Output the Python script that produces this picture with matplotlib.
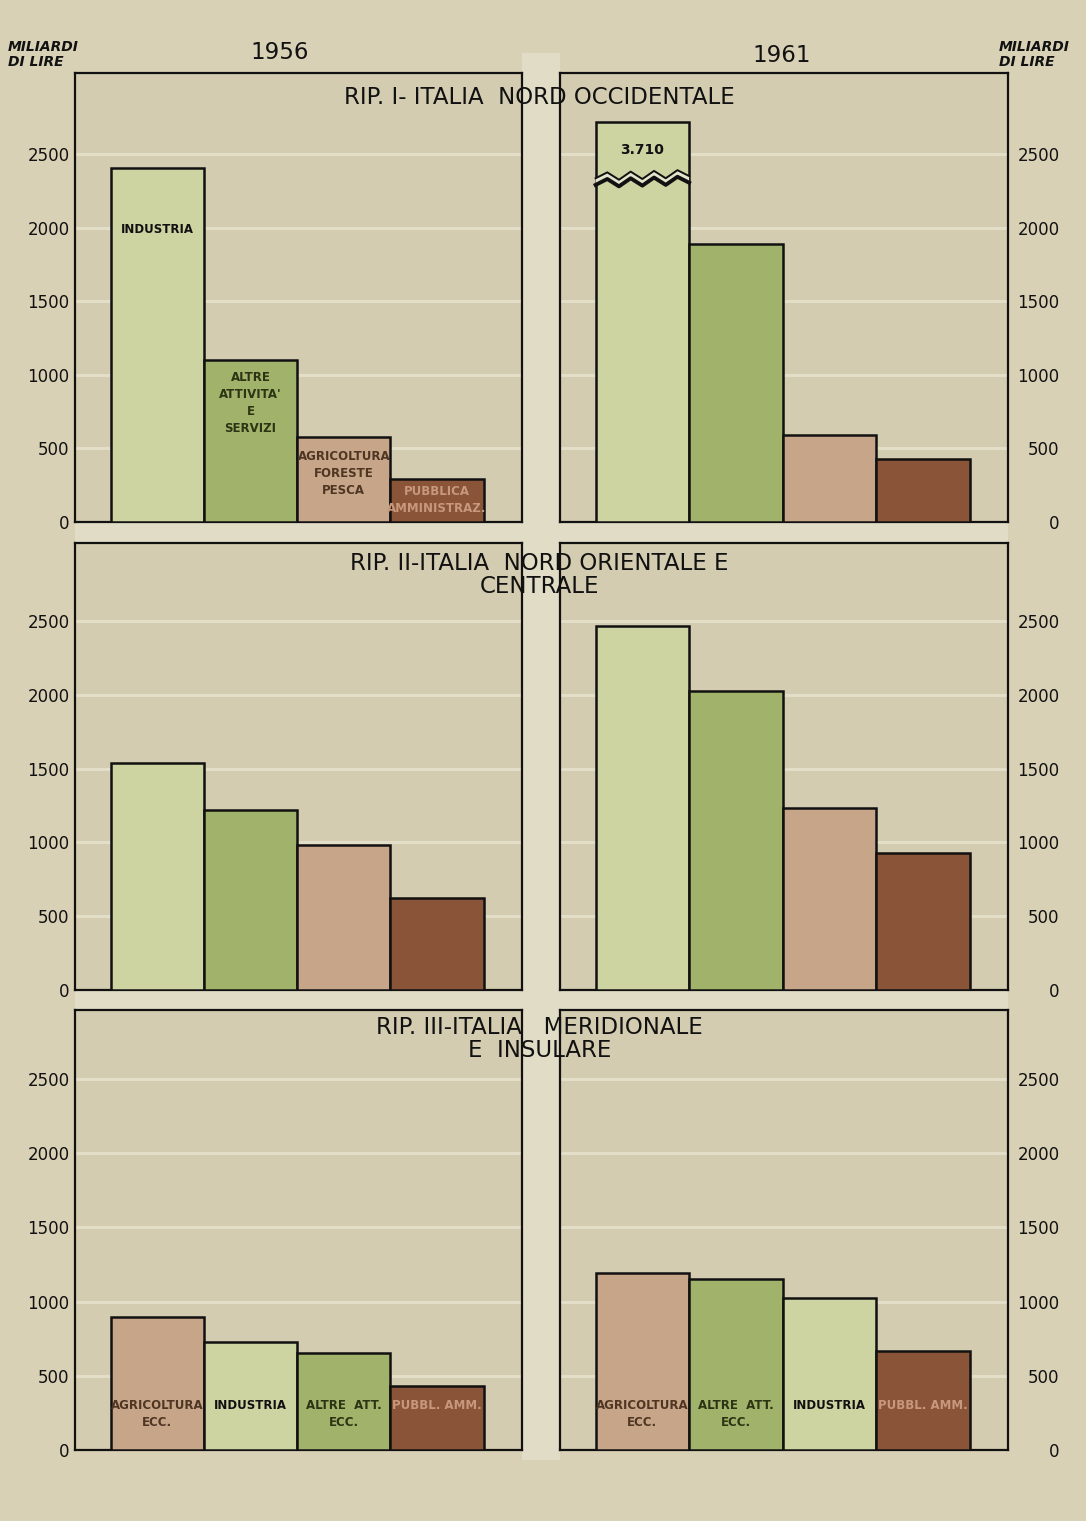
import numpy as np
import matplotlib
matplotlib.use('Agg')
import matplotlib.pyplot as plt
from matplotlib.patches import Rectangle, Polygon

plt.rcParams['font.family'] = ['DejaVu Sans']

# categorie
IND = 'INDUSTRIA'
ALT = 'ALTRE ATTIVITA'
AGR = 'AGRICOLTURA'
PUB = 'PUBBLICA AMMINISTRAZIONE'

# valori in miliardi di lire
rip1_cat = [IND, ALT, AGR, PUB]
rip1_1956 = [2405, 1100, 580, 295]
rip1_1961 = [3710, 1890, 590, 430]

rip2_cat = [IND, ALT, AGR, PUB]
rip2_1956 = [1540, 1220, 985, 625]
rip2_1961 = [2465, 2025, 1235, 925]

rip3_cat_1956 = [AGR, IND, ALT, PUB]
rip3_1956 = [895, 730, 655, 430]
rip3_cat_1961 = [AGR, ALT, IND, PUB]
rip3_1961 = [1190, 1150, 1025, 665]

yticks = [0, 500, 1000, 1500, 2000, 2500]
years = ['1956', '1961']
titles = ['RIP. I- ITALIA  NORD OCCIDENTALE',
          'RIP. II-ITALIA  NORD ORIENTALE E\nCENTRALE',
          'RIP. III-ITALIA   MERIDIONALE\nE  INSULARE']

# etichette dentro le barre
lab_rip1 = {IND: 'INDUSTRIA', ALT: "ALTRE\nATTIVITA'\nE\nSERVIZI",
            AGR: 'AGRICOLTURA\nFORESTE\nPESCA', PUB: 'PUBBLICA\nAMMINISTRAZ.'}
lab_rip1_y = {IND: 1985, ALT: 810, AGR: 330, PUB: 150}
lab_rip3 = {IND: 'INDUSTRIA', ALT: 'ALTRE  ATT.\nECC.',
            AGR: 'AGRICOLTURA\nECC.', PUB: 'PUBBL. AMM.'}

colori = {IND: '#ced3a2', ALT: '#a1b26a', AGR: '#c7a588', PUB: '#895437'}
col_testo = {IND: '#111111', ALT: '#2c3414', AGR: '#4e3623', PUB: '#c8987c'}

# barra interrotta (3.710)
CAP = 2720
BREAK = 2290

bg = '#d9d1b5'
panel_bg = '#d4ccb0'
gap_col = '#e0dcc6'

fig = plt.figure(figsize=(10.86, 15.21), dpi=100, facecolor=bg)

rows = [(0.6568, 0.2952, 3050), (0.3491, 0.2939, 3028), (0.0467, 0.2893, 2965)]
cols = [(0.0691, 0.4116), (0.5157, 0.4125)]

data = [[(rip1_cat, rip1_1956), (rip1_cat, rip1_1961)],
        [(rip2_cat, rip2_1956), (rip2_cat, rip2_1961)],
        [(rip3_cat_1956, rip3_1956), (rip3_cat_1961, rip3_1961)]]

# strisce chiare tra i pannelli
fig.patches.append(Rectangle((0.4807, 0.040), 0.035, 0.925, transform=fig.transFigure,
                             facecolor=gap_col, edgecolor='none', zorder=-1))
for y0, h in [(0.6431, 0.0137), (0.3360, 0.0131)]:
    fig.patches.append(Rectangle((0.0691, y0), 0.859, h, transform=fig.transFigure,
                                 facecolor=gap_col, edgecolor='none', zorder=-1))

for r, (bottom, height, ytop) in enumerate(rows):
    for c, (left, width) in enumerate(cols):
        ax = fig.add_axes([left, bottom, width, height])
        ax.set_facecolor(panel_bg)
        cats, vals = data[r][c]
        x = np.arange(len(cats))
        shown = [min(v, CAP) for v in vals]
        ax.bar(x, shown, width=1.0, color=[colori[k] for k in cats],
               edgecolor='#111111', linewidth=1.8, zorder=3)

        # interruzione della barra fuori scala
        for i, v in enumerate(vals):
            if v > CAP:
                xs = np.linspace(i - 0.5, i + 0.5, 9)
                off = np.array([0, 40, -10, 45, -5, 50, 0, 55, 15])
                lo = BREAK + off
                hi = BREAK + 45 + off
                pts = list(zip(xs, lo)) + list(zip(xs[::-1], hi[::-1]))
                ax.add_patch(Polygon(pts, closed=True, facecolor='#e3e5cc',
                                     edgecolor='none', zorder=4))
                ax.plot(xs, lo, color='#111111', lw=2.8, zorder=5)
                ax.plot(xs, hi, color='#111111', lw=1.4, zorder=5)
                ax.text(i, 2530, '{:,}'.format(v).replace(',', '.'), ha='center',
                        va='center', fontsize=10, weight='bold', color='#111111', zorder=6)

        if r == 0 and c == 0:
            for i, k in enumerate(cats):
                ax.text(i, lab_rip1_y[k], lab_rip1[k], ha='center', va='center',
                        fontsize=8.5, weight='bold', color=col_testo[k],
                        linespacing=1.4, zorder=6)
        if r == 2:
            for i, k in enumerate(cats):
                ax.text(i, 345, lab_rip3[k], ha='center', va='top',
                        fontsize=8.5, weight='bold', color=col_testo[k],
                        linespacing=1.4, zorder=6)

        ax.set_xlim(-0.88, 3.91)
        ax.set_ylim(0, ytop)
        ax.set_xticks([])
        ax.set_yticks(yticks)
        ax.set_axisbelow(True)
        ax.yaxis.grid(True, color='#e2dec8', lw=2.2)
        for s in ax.spines.values():
            s.set_color('#111111')
            s.set_linewidth(1.6)
        if c == 0:
            ax.tick_params(axis='y', length=0, pad=4, labelsize=12, labelcolor='#111111')
        else:
            ax.yaxis.tick_right()
            ax.tick_params(axis='y', length=0, pad=37, labelsize=12,
                           labelcolor='#111111', labelright=True, labelleft=False)
            for t in ax.yaxis.get_major_ticks():
                t.label2.set_horizontalalignment('right')

# titoli delle ripartizioni
for r, t in enumerate(titles):
    yc = [0.9356, 0.622, 0.3169][r]
    fig.text(0.497, yc, t, ha='center', va='center', fontsize=16.5,
             color='#111111', linespacing=1.0, zorder=10)

fig.text(0.2578, 0.9658, years[0], ha='center', va='center', fontsize=16.5, color='#111111')
fig.text(0.720, 0.9638, years[1], ha='center', va='center', fontsize=16.5, color='#111111')

fig.text(0.007, 0.974, 'MILIARDI\nDI LIRE', ha='left', va='top', fontsize=10,
         style='italic', weight='bold', color='#111111', linespacing=1.15)
fig.text(0.920, 0.974, 'MILIARDI\nDI LIRE', ha='left', va='top', fontsize=10,
         style='italic', weight='bold', color='#111111', linespacing=1.15)

fig.savefig('out.png', dpi=100, facecolor=bg)
